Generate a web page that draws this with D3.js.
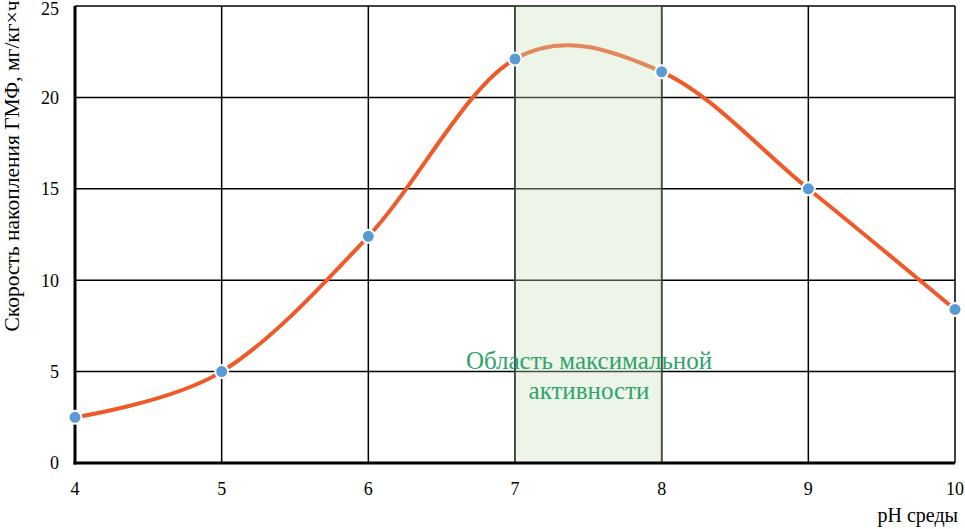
<!DOCTYPE html>
<html><head><meta charset="utf-8">
<script src="https://cdn.jsdelivr.net/npm/d3@7"></script>
<style>body{margin:0;background:#fff}svg{display:block}</style>
</head><body><svg id="c" width="965" height="529" font-family="'Liberation Serif', 'DejaVu Serif', serif"></svg>
<script>
const phValues = [4, 5, 6, 7, 8, 9, 10];
const rateValues = [2.5, 5.0, 12.4, 22.1, 21.4, 15.0, 8.4];
const yTicks = [0, 5, 10, 15, 20, 25];
const xTicks = [4, 5, 6, 7, 8, 9, 10];
const bandRange = [7, 8];
const bandLabel = ["Область максимальной", "активности"];
const yTitle = "Скорость накопления ГМФ, мг/кг×ч";
const xTitle = "pH среды";

const W = 965, H = 529, m = {l:75, r:10, t:6, b:66};
const svg = d3.select("#c");
const x = d3.scaleLinear().domain([4,10]).range([m.l, W-m.r]);
const y = d3.scaleLinear().domain([0,25]).range([H-m.b, m.t]);

// grid
svg.append("g").selectAll("line").data(yTicks.filter(d=>d>0)).join("line")
  .attr("x1", m.l).attr("x2", W-m.r).attr("y1", d=>y(d)).attr("y2", d=>y(d))
  .attr("stroke","#000").attr("stroke-width",1.5);
svg.append("g").selectAll("line").data(xTicks.filter(d=>d>4)).join("line")
  .attr("x1", d=>x(d)).attr("x2", d=>x(d)).attr("y1", y(0)).attr("y2", y(25))
  .attr("stroke","#000").attr("stroke-width",1.5);

// line
const line = d3.line().x((d,i)=>x(phValues[i])).y(d=>y(d)).curve(d3.curveCatmullRom.alpha(0));
svg.append("path").datum(rateValues).attr("d", line).attr("fill","none")
  .attr("stroke","#EE5A2A").attr("stroke-width",4).attr("stroke-linecap","round");

// band overlay
svg.append("rect").attr("x", x(bandRange[0])).attr("width", x(bandRange[1])-x(bandRange[0]))
  .attr("y", y(25)).attr("height", y(0)-y(25))
  .attr("fill","rgb(200,225,185)").attr("fill-opacity",0.35)
  .attr("stroke","#3f4f3f").attr("stroke-width",1.5);

// axes
svg.append("line").attr("x1",m.l).attr("x2",m.l).attr("y1",y(0)+1.5).attr("y2",y(25)).attr("stroke","#000").attr("stroke-width",3);
svg.append("line").attr("x1",m.l-1.5).attr("x2",W-m.r).attr("y1",y(0)).attr("y2",y(0)).attr("stroke","#000").attr("stroke-width",3);

// markers
svg.append("g").selectAll("circle").data(rateValues).join("circle")
  .attr("cx",(d,i)=>x(phValues[i])).attr("cy",d=>y(d)).attr("r",6.5)
  .attr("fill","#5B9BD5").attr("stroke","#fff").attr("stroke-width",2);

// tick labels
svg.append("g").selectAll("text").data(yTicks).join("text")
  .attr("x", 59).attr("y", d=>Math.max(y(d), 8.5)).attr("dy","0.35em").attr("text-anchor","end")
  .attr("font-size",18).text(d=>d);
svg.append("g").selectAll("text").data(xTicks).join("text")
  .attr("x", d=>x(d)).attr("y", 489).attr("dy","0.35em").attr("text-anchor","middle")
  .attr("font-size",18).text(d=>d);

// titles
svg.append("text").attr("transform","translate(12,166) rotate(-90)").attr("text-anchor","middle")
  .attr("dominant-baseline","central").attr("font-size",21.5).text(yTitle);
svg.append("text").attr("x",958).attr("y",522).attr("text-anchor","end").attr("font-size",20).text(xTitle);

// band label
svg.append("g").selectAll("text").data(bandLabel).join("text")
  .attr("x", 589).attr("y",(d,i)=>360+i*30).attr("dy","0.35em").attr("text-anchor","middle")
  .attr("font-size",25).attr("fill","#2EA36A").text(d=>d);
</script></body></html>
